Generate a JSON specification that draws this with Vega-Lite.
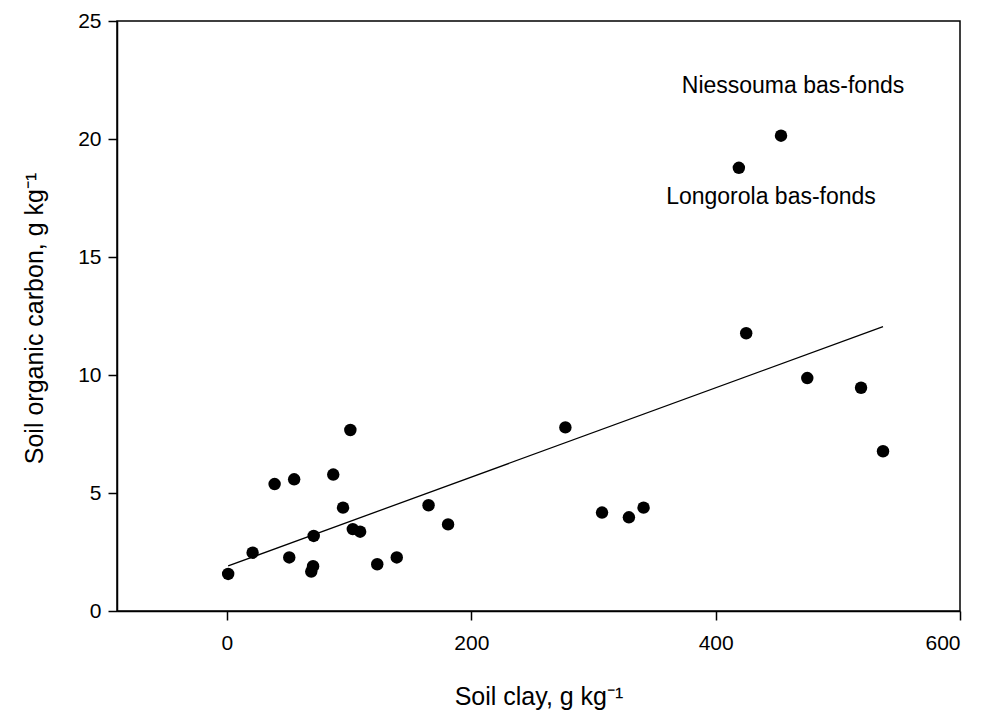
{
  "$schema": "https://vega.github.io/schema/vega-lite/v6.json",
  "width": 843,
  "height": 590,
  "autosize": {"type": "none"},
  "padding": {"left": 117, "top": 21, "right": 22, "bottom": 102},
  "background": "white",
  "config": {
    "font": "Liberation Sans",
    "view": {"stroke": "black", "strokeWidth": 1.5},
    "axis": {
      "grid": false,
      "domainColor": "black",
      "domainWidth": 1.5,
      "tickColor": "black",
      "tickWidth": 1.5,
      "tickSize": 9,
      "labelColor": "black",
      "labelFont": "Liberation Sans",
      "labelFontSize": 21,
      "titleColor": "black",
      "titleFont": "Liberation Sans",
      "titleFontSize": 25,
      "titleFontWeight": "normal"
    }
  },
  "layer": [
    {
      "data": {"values": [
        {"clay": 1, "soc": 1.91},
        {"clay": 537, "soc": 12.05}
      ]},
      "mark": {"type": "line", "color": "black", "strokeWidth": 1.3},
      "encoding": {
        "x": {"field": "clay", "type": "quantitative", "scale": {"domain": [-90, 600], "nice": false, "zero": false},
          "axis": {"values": [0, 200, 400, 600], "title": "Soil clay, g kg⁻¹", "labelPadding": 12, "titleX": 421.5, "titleY": 85, "titleBaseline": "middle", "titleAnchor": "middle", "titleAlign": "center"}},
        "y": {"field": "soc", "type": "quantitative", "scale": {"domain": [0, 25], "nice": false, "zero": false},
          "axis": {"values": [0, 5, 10, 15, 20, 25], "title": "Soil organic carbon, g kg⁻¹", "labelPadding": 7, "titleX": -83, "titleY": 297, "titleAngle": -90, "titleBaseline": "middle", "titleAlign": "center"}}
      }
    },
    {
      "data": {"values": [
        {"clay": 1, "soc": 1.57},
        {"clay": 21, "soc": 2.47},
        {"clay": 39, "soc": 5.38},
        {"clay": 55, "soc": 5.58},
        {"clay": 51, "soc": 2.27},
        {"clay": 71, "soc": 3.18},
        {"clay": 70.5, "soc": 1.9},
        {"clay": 69, "soc": 1.67},
        {"clay": 87, "soc": 5.78},
        {"clay": 101, "soc": 7.67},
        {"clay": 95, "soc": 4.38},
        {"clay": 103, "soc": 3.47},
        {"clay": 109, "soc": 3.36},
        {"clay": 123, "soc": 1.98},
        {"clay": 139, "soc": 2.27},
        {"clay": 165, "soc": 4.48},
        {"clay": 181, "soc": 3.67},
        {"clay": 277, "soc": 7.78},
        {"clay": 307, "soc": 4.17},
        {"clay": 329, "soc": 3.97},
        {"clay": 341, "soc": 4.38},
        {"clay": 419, "soc": 18.78},
        {"clay": 425, "soc": 11.77},
        {"clay": 453.5, "soc": 20.14},
        {"clay": 475, "soc": 9.87},
        {"clay": 519, "soc": 9.46},
        {"clay": 537, "soc": 6.77}
      ]},
      "mark": {"type": "circle", "color": "black", "opacity": 1, "size": 155},
      "encoding": {
        "x": {"field": "clay", "type": "quantitative"},
        "y": {"field": "soc", "type": "quantitative"}
      }
    },
    {
      "data": {"values": [
        {"clay": 463.3, "soc": 22.25, "label": "Niessouma bas-fonds"},
        {"clay": 445.3, "soc": 17.54, "label": "Longorola bas-fonds"}
      ]},
      "mark": {"type": "text", "color": "black", "font": "Liberation Sans", "fontSize": 23, "align": "center", "baseline": "middle"},
      "encoding": {
        "x": {"field": "clay", "type": "quantitative"},
        "y": {"field": "soc", "type": "quantitative"},
        "text": {"field": "label"}
      }
    }
  ]
}
